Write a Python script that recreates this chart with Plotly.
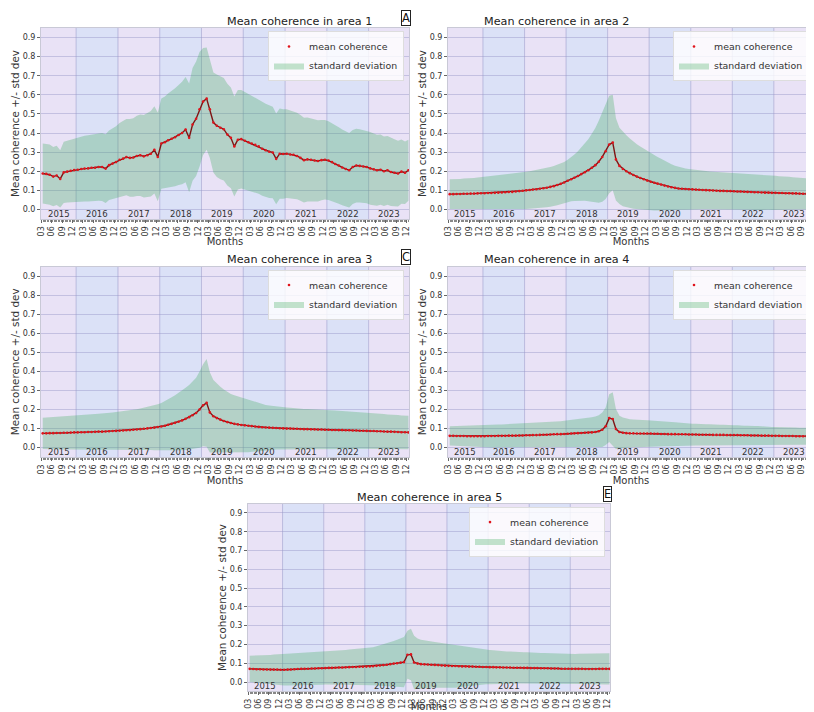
import plotly.graph_objects as go
import pandas as pd

FONT = "DejaVu Sans"
SCREEN_W, SCREEN_H = 814, 712
OFF = 8                      # page body margin in the browser
W, H = SCREEN_W - OFF, SCREEN_H - OFF

# ---------------- data ----------------
years = list(range(2015, 2024))
first_month_2015 = 3
dates = [f"{y}-{m:02d}-15" for y in years for m in range(1, 13)
         if not (y == 2015 and m < first_month_2015)]

tick_month_numbers = [3, 6, 9, 12]
tick_month_labels = ["03", "06", "09", "12"]

area_titles = ["Mean coherence in area 1", "Mean coherence in area 2",
               "Mean coherence in area 3", "Mean coherence in area 4",
               "Mean coherence in area 5"]
panel_letters = ["A", "B", "C", "D", "E"]

mean_a = [0.188, 0.186, 0.182, 0.172, 0.178, 0.160, 0.194, 0.198, 0.202, 0.206,
          0.208, 0.212, 0.214, 0.215, 0.218, 0.218, 0.222, 0.222, 0.214, 0.232, 0.240, 0.248,
          0.260, 0.266, 0.274, 0.270, 0.272, 0.280, 0.284, 0.278, 0.284, 0.292, 0.312, 0.275,
          0.345, 0.352, 0.362, 0.370, 0.378, 0.390, 0.400, 0.418, 0.375, 0.445, 0.475, 0.525,
          0.565, 0.580, 0.525, 0.455, 0.438, 0.428, 0.420, 0.392, 0.375, 0.330, 0.365, 0.368,
          0.360, 0.352, 0.345, 0.338, 0.330, 0.318, 0.310, 0.302, 0.298, 0.265, 0.292, 0.290,
          0.292, 0.288, 0.286, 0.280, 0.270, 0.258, 0.262, 0.260, 0.256, 0.254, 0.258, 0.260,
          0.256, 0.248, 0.238, 0.230, 0.220, 0.212, 0.205, 0.222, 0.230, 0.228, 0.225, 0.222,
          0.215, 0.210, 0.205, 0.208, 0.200, 0.205, 0.196, 0.192, 0.188, 0.198, 0.192, 0.205]
std_a = [0.157, 0.157, 0.158, 0.155, 0.155, 0.150, 0.160, 0.162, 0.164, 0.166,
         0.168, 0.170, 0.172, 0.173, 0.174, 0.175, 0.176, 0.178, 0.180, 0.182, 0.185, 0.188,
         0.192, 0.196, 0.200, 0.203, 0.206, 0.210, 0.213, 0.216, 0.220, 0.224, 0.228, 0.232,
         0.236, 0.240, 0.245, 0.250, 0.256, 0.262, 0.268, 0.275, 0.285, 0.295, 0.300, 0.300,
         0.280, 0.268, 0.255, 0.262, 0.268, 0.270, 0.268, 0.266, 0.264, 0.262, 0.260, 0.258,
         0.256, 0.254, 0.252, 0.250, 0.248, 0.246, 0.244, 0.242, 0.240, 0.238, 0.236, 0.234,
         0.232, 0.230, 0.228, 0.226, 0.224, 0.222, 0.220, 0.218, 0.216, 0.213, 0.210, 0.208,
         0.206, 0.204, 0.202, 0.200, 0.198, 0.196, 0.195, 0.194, 0.193, 0.192, 0.191, 0.190,
         0.190, 0.188, 0.186, 0.184, 0.182, 0.180, 0.178, 0.175, 0.172, 0.168, 0.164, 0.160]

mean_b = [0.080, 0.080, 0.081, 0.081, 0.082, 0.082, 0.083, 0.083, 0.084, 0.085,
          0.085, 0.086, 0.086, 0.087, 0.088, 0.089, 0.090, 0.091, 0.092, 0.094, 0.096, 0.098,
          0.100, 0.102, 0.104, 0.106, 0.108, 0.111, 0.114, 0.118, 0.122, 0.128, 0.134, 0.141,
          0.150, 0.158, 0.166, 0.175, 0.185, 0.195, 0.205, 0.218, 0.232, 0.250, 0.275, 0.305,
          0.340, 0.350, 0.262, 0.228, 0.212, 0.200, 0.190, 0.180, 0.172, 0.165, 0.158, 0.151,
          0.145, 0.140, 0.135, 0.130, 0.125, 0.120, 0.116, 0.113, 0.110, 0.108, 0.107, 0.106,
          0.105, 0.104, 0.103, 0.102, 0.101, 0.100, 0.099, 0.098, 0.097, 0.097, 0.096, 0.096,
          0.095, 0.094, 0.094, 0.093, 0.092, 0.091, 0.090, 0.090, 0.089, 0.088, 0.088, 0.087,
          0.087, 0.086, 0.086, 0.085, 0.085, 0.084, 0.084, 0.083, 0.082, 0.082, 0.081, 0.080]
std_b = [0.078, 0.078, 0.079, 0.079, 0.080, 0.080, 0.081, 0.082, 0.083, 0.084,
         0.085, 0.086, 0.087, 0.088, 0.089, 0.090, 0.091, 0.092, 0.093, 0.094, 0.095, 0.096,
         0.097, 0.098, 0.099, 0.100, 0.101, 0.102, 0.103, 0.104, 0.105, 0.106, 0.107, 0.108,
         0.110, 0.115, 0.122, 0.130, 0.140, 0.150, 0.162, 0.178, 0.195, 0.215, 0.235, 0.250,
         0.255, 0.250, 0.215, 0.200, 0.195, 0.188, 0.182, 0.176, 0.170, 0.165, 0.160, 0.155,
         0.150, 0.145, 0.140, 0.135, 0.130, 0.125, 0.120, 0.116, 0.113, 0.110, 0.108, 0.106,
         0.104, 0.103, 0.102, 0.101, 0.100, 0.099, 0.099, 0.098, 0.098, 0.097, 0.097, 0.096,
         0.096, 0.095, 0.095, 0.094, 0.094, 0.093, 0.093, 0.092, 0.092, 0.091, 0.090, 0.090,
         0.089, 0.088, 0.088, 0.087, 0.086, 0.085, 0.084, 0.083, 0.082, 0.081, 0.080, 0.080]

mean_c = [0.075, 0.075, 0.076, 0.076, 0.077, 0.077, 0.078, 0.078, 0.079, 0.080,
          0.080, 0.081, 0.081, 0.082, 0.082, 0.083, 0.084, 0.084, 0.085, 0.086, 0.087, 0.088,
          0.089, 0.090, 0.091, 0.092, 0.094, 0.095, 0.097, 0.099, 0.101, 0.103, 0.105, 0.108,
          0.111, 0.115, 0.120, 0.125, 0.130, 0.136, 0.143, 0.151, 0.160, 0.170, 0.182, 0.200,
          0.222, 0.235, 0.185, 0.165, 0.155, 0.147, 0.140, 0.134, 0.129, 0.125, 0.122, 0.119,
          0.117, 0.115, 0.113, 0.111, 0.109, 0.107, 0.106, 0.105, 0.104, 0.103, 0.102, 0.101,
          0.100, 0.100, 0.099, 0.099, 0.098, 0.097, 0.097, 0.096, 0.096, 0.095, 0.095, 0.094,
          0.094, 0.093, 0.093, 0.092, 0.092, 0.091, 0.091, 0.090, 0.090, 0.089, 0.089, 0.088,
          0.087, 0.087, 0.086, 0.086, 0.085, 0.084, 0.084, 0.083, 0.082, 0.081, 0.081, 0.080]
std_c = [0.082, 0.083, 0.084, 0.084, 0.085, 0.086, 0.087, 0.087, 0.088, 0.089,
         0.090, 0.090, 0.091, 0.092, 0.093, 0.093, 0.094, 0.095, 0.096, 0.097, 0.098, 0.099,
         0.100, 0.101, 0.102, 0.104, 0.105, 0.107, 0.109, 0.111, 0.113, 0.115, 0.118, 0.120,
         0.123, 0.128, 0.133, 0.139, 0.145, 0.151, 0.157, 0.163, 0.169, 0.176, 0.185, 0.200,
         0.215, 0.230, 0.210, 0.190, 0.180, 0.172, 0.165, 0.158, 0.153, 0.150, 0.147, 0.145,
         0.143, 0.139, 0.135, 0.131, 0.127, 0.122, 0.118, 0.116, 0.114, 0.112, 0.111, 0.110,
         0.110, 0.109, 0.108, 0.108, 0.107, 0.106, 0.106, 0.105, 0.105, 0.104, 0.104, 0.104,
         0.104, 0.103, 0.102, 0.101, 0.100, 0.099, 0.098, 0.097, 0.096, 0.095, 0.094, 0.093,
         0.093, 0.092, 0.092, 0.091, 0.091, 0.090, 0.090, 0.089, 0.089, 0.088, 0.088, 0.088]

mean_d = [0.062, 0.062, 0.061, 0.061, 0.061, 0.060, 0.060, 0.060, 0.060, 0.060,
          0.060, 0.061, 0.061, 0.061, 0.062, 0.062, 0.062, 0.063, 0.063, 0.063, 0.064, 0.064,
          0.065, 0.065, 0.066, 0.066, 0.067, 0.068, 0.068, 0.069, 0.070, 0.071, 0.071, 0.072,
          0.073, 0.074, 0.075, 0.076, 0.077, 0.078, 0.079, 0.080, 0.082, 0.086, 0.094, 0.112,
          0.155, 0.150, 0.098, 0.082, 0.078, 0.076, 0.075, 0.075, 0.074, 0.074, 0.074, 0.074,
          0.074, 0.073, 0.073, 0.072, 0.072, 0.071, 0.071, 0.071, 0.070, 0.070, 0.070, 0.069,
          0.069, 0.069, 0.068, 0.068, 0.068, 0.068, 0.067, 0.067, 0.067, 0.067, 0.066, 0.066,
          0.066, 0.066, 0.065, 0.065, 0.065, 0.064, 0.064, 0.064, 0.063, 0.063, 0.063, 0.062,
          0.062, 0.062, 0.061, 0.061, 0.061, 0.061, 0.060, 0.060, 0.060, 0.060, 0.060, 0.060]
std_d = [0.050, 0.051, 0.052, 0.053, 0.054, 0.055, 0.056, 0.057, 0.058, 0.059,
         0.060, 0.060, 0.060, 0.060, 0.060, 0.060, 0.061, 0.061, 0.061, 0.061, 0.061, 0.061,
         0.061, 0.062, 0.062, 0.063, 0.064, 0.064, 0.065, 0.066, 0.067, 0.067, 0.068, 0.069,
         0.070, 0.071, 0.072, 0.073, 0.074, 0.075, 0.077, 0.079, 0.081, 0.084, 0.090, 0.098,
         0.125, 0.140, 0.105, 0.086, 0.080, 0.076, 0.074, 0.073, 0.072, 0.071, 0.070, 0.070,
         0.069, 0.068, 0.067, 0.066, 0.065, 0.064, 0.063, 0.062, 0.061, 0.060, 0.059, 0.058,
         0.057, 0.057, 0.056, 0.056, 0.055, 0.055, 0.054, 0.054, 0.053, 0.053, 0.052, 0.052,
         0.051, 0.051, 0.050, 0.050, 0.050, 0.049, 0.049, 0.049, 0.048, 0.048, 0.048, 0.047,
         0.047, 0.047, 0.047, 0.046, 0.046, 0.046, 0.046, 0.045, 0.045, 0.045, 0.045, 0.045]

mean_e = [0.070, 0.069, 0.068, 0.068, 0.067, 0.067, 0.066, 0.066, 0.066, 0.065,
          0.065, 0.066, 0.067, 0.068, 0.069, 0.070, 0.070, 0.071, 0.072, 0.072, 0.073, 0.073,
          0.074, 0.075, 0.075, 0.076, 0.077, 0.077, 0.078, 0.079, 0.080, 0.080, 0.081, 0.081,
          0.082, 0.083, 0.084, 0.086, 0.088, 0.090, 0.092, 0.095, 0.098, 0.100, 0.103, 0.106,
          0.145, 0.147, 0.104, 0.098, 0.095, 0.094, 0.093, 0.092, 0.091, 0.090, 0.088, 0.087,
          0.086, 0.085, 0.085, 0.084, 0.083, 0.083, 0.082, 0.082, 0.081, 0.081, 0.080, 0.080,
          0.079, 0.079, 0.078, 0.078, 0.077, 0.077, 0.077, 0.076, 0.076, 0.076, 0.075, 0.075,
          0.074, 0.074, 0.074, 0.073, 0.073, 0.073, 0.072, 0.072, 0.072, 0.071, 0.071, 0.071,
          0.070, 0.070, 0.070, 0.070, 0.069, 0.069, 0.069, 0.069, 0.070, 0.070, 0.070, 0.070]
std_e = [0.070, 0.071, 0.072, 0.073, 0.075, 0.076, 0.078, 0.080, 0.082, 0.083,
         0.084, 0.084, 0.085, 0.085, 0.085, 0.086, 0.086, 0.086, 0.086, 0.087, 0.087, 0.087,
         0.087, 0.088, 0.089, 0.090, 0.091, 0.092, 0.093, 0.094, 0.095, 0.095, 0.096, 0.096,
         0.097, 0.099, 0.101, 0.104, 0.107, 0.110, 0.113, 0.117, 0.121, 0.125, 0.129, 0.134,
         0.128, 0.137, 0.142, 0.134, 0.130, 0.127, 0.125, 0.123, 0.122, 0.121, 0.120, 0.119,
         0.119, 0.117, 0.115, 0.112, 0.109, 0.106, 0.103, 0.100, 0.098, 0.096, 0.094, 0.092,
         0.091, 0.090, 0.089, 0.088, 0.087, 0.086, 0.086, 0.085, 0.084, 0.084, 0.083, 0.083,
         0.082, 0.082, 0.081, 0.081, 0.081, 0.080, 0.080, 0.080, 0.079, 0.079, 0.079, 0.079,
         0.079, 0.079, 0.080, 0.080, 0.080, 0.081, 0.081, 0.082, 0.082, 0.082, 0.083, 0.083]

means = [mean_a, mean_b, mean_c, mean_d, mean_e]
stds = [std_a, std_b, std_c, std_d, std_e]

# ---------------- layout / style ----------------
# plot-area boxes in screen pixels: left, top, right, bottom
boxes = [(41, 28, 409, 219), (448, 28, 814, 219),
         (41, 266.5, 409, 457.2), (448, 266.5, 814, 457.2),
         (248, 503.6, 610, 691.4)]
X_RANGE = ["2015-02-28", "2023-12-20"]
Y_RANGE = [-0.05, 0.95]
BAND_ODD = "#e9e2f6"
BAND_EVEN = "#dbe1f7"
FILL = "rgba(60,170,90,0.30)"
MEAN_LINE = "#7e1414"
MEAN_DOT = "#e0141c"
TXT = "#333333"


def px_x(v):
    return (v - OFF) / W


def px_y(v):
    return 1 - (v - OFF) / H


tickvals = [f"{y}-{m:02d}-01" for y in years for m in tick_month_numbers
            if not (y == 2015 and m < first_month_2015)]
ticktext = [tick_month_labels[tick_month_numbers.index(int(t[5:7]))] for t in tickvals]

fig = go.Figure()
shapes, annotations = [], []
rng0, rng1 = pd.Timestamp(X_RANGE[0]), pd.Timestamp(X_RANGE[1])

for i in range(5):
    n = "" if i == 0 else str(i + 1)
    xa, ya = "x" + n, "y" + n
    leg = "legend" + n
    l, t, r, b = boxes[i]
    mean, std = means[i], stds[i]
    lower = [m - s for m, s in zip(mean, std)]
    upper = [m + s for m, s in zip(mean, std)]

    fig.add_trace(go.Scatter(x=dates, y=lower, mode="lines", line=dict(width=0),
                             showlegend=False, hoverinfo="skip", xaxis=xa, yaxis=ya))
    fig.add_trace(go.Scatter(x=dates, y=upper, mode="lines", line=dict(width=0),
                             fill="tonexty", fillcolor=FILL, name="standard deviation",
                             legend=leg, legendrank=2, xaxis=xa, yaxis=ya))
    fig.add_trace(go.Scatter(x=dates, y=mean, mode="lines",
                             line=dict(color=MEAN_LINE, width=1.4),
                             showlegend=False, xaxis=xa, yaxis=ya))
    fig.add_trace(go.Scatter(x=dates, y=mean, mode="markers",
                             marker=dict(color=MEAN_DOT, size=2.6),
                             name="mean coherence", legend=leg, legendrank=1,
                             xaxis=xa, yaxis=ya))

    fig.layout["xaxis" + n] = dict(
        domain=[max(0, px_x(l)), min(1, px_x(r))], anchor=ya, type="date", range=X_RANGE,
        tickmode="array", tickvals=tickvals, ticktext=ticktext, tickangle=-90,
        ticks="outside", ticklen=3, tickcolor="#666", tickwidth=1,
        tickfont=dict(family=FONT, size=8, color=TXT),
        showgrid=False, zeroline=False,
        showline=True, linecolor="#c9c9d6", linewidth=1, mirror=True,
        minor=dict(ticks="outside", ticklen=2, tickcolor="#888", dtick=86400000 * 12,
                   showgrid=False),
        title=dict(text="Months", font=dict(family=FONT, size=10, color=TXT), standoff=0),
        automargin=False)
    fig.layout["yaxis" + n] = dict(
        domain=[px_y(b), px_y(t)], anchor=xa, range=Y_RANGE,
        tickmode="array", tickvals=[k / 10 for k in range(10)],
        ticktext=[f"{k / 10:.1f}" for k in range(10)],
        ticks="outside", ticklen=3, tickcolor="#666",
        tickfont=dict(family=FONT, size=8, color=TXT),
        showgrid=True, gridcolor="rgba(150,150,200,0.45)", gridwidth=1, zeroline=False,
        showline=True, linecolor="#c9c9d6", linewidth=1, mirror=True,
        title=dict(text="Mean coherence +/- std dev",
                   font=dict(family=FONT, size=10.4, color=TXT), standoff=1),
        automargin=False)
    fig.layout[leg] = dict(
        x=px_x(r - 5), y=px_y(t + 3), xanchor="right", yanchor="top",
        traceorder="normal",
        bgcolor="rgba(255,255,255,0.8)", bordercolor="#dddddd", borderwidth=1,
        font=dict(family=FONT, size=9.4, color=TXT), itemwidth=30,
        tracegroupgap=0)

    # year bands and year boundary lines
    for y in years:
        shapes.append(dict(type="rect", xref=xa, yref=ya + " domain",
                           x0=f"{y}-01-01", x1=f"{y + 1}-01-01", y0=0, y1=1,
                           fillcolor=BAND_ODD if y % 2 else BAND_EVEN,
                           line=dict(width=0), layer="below"))
    for y in years[1:]:
        shapes.append(dict(type="line", xref=xa, yref=ya + " domain",
                           x0=f"{y}-01-01", x1=f"{y}-01-01", y0=0, y1=1,
                           line=dict(color="rgba(150,150,200,0.55)", width=1),
                           layer="below"))
    # year labels at the centre of the visible part of each year
    for y in years:
        s = max(pd.Timestamp(f"{y}-01-01"), rng0)
        e = min(pd.Timestamp(f"{y + 1}-01-01"), rng1)
        c = s + (e - s) / 2
        annotations.append(dict(xref=xa, yref=ya, x=c.strftime("%Y-%m-%d"), y=-0.022,
                                text=str(y), showarrow=False, yanchor="middle",
                                font=dict(family=FONT, size=8.5, color=TXT)))
    # panel title and letter
    annotations.append(dict(xref="paper", yref="paper", x=px_x((l + r) / 2),
                            y=px_y(t - 6.5), yanchor="middle", showarrow=False,
                            text=area_titles[i],
                            font=dict(family=FONT, size=11.2, color="#222")))
    annotations.append(dict(xref="paper", yref="paper", x=px_x(r - 3),
                            y=px_y(t - 10), xanchor="center", yanchor="middle",
                            showarrow=False, text=panel_letters[i],
                            bordercolor="#222", borderwidth=1, borderpad=0,
                            bgcolor="white",
                            font=dict(family=FONT, size=11.5, color="#111")))

fig.update_layout(width=W, height=H, margin=dict(l=0, r=0, t=0, b=0),
                  paper_bgcolor="white", plot_bgcolor="white",
                  shapes=shapes, annotations=annotations,
                  font=dict(family=FONT, color=TXT))
fig.write_html("out.html")
